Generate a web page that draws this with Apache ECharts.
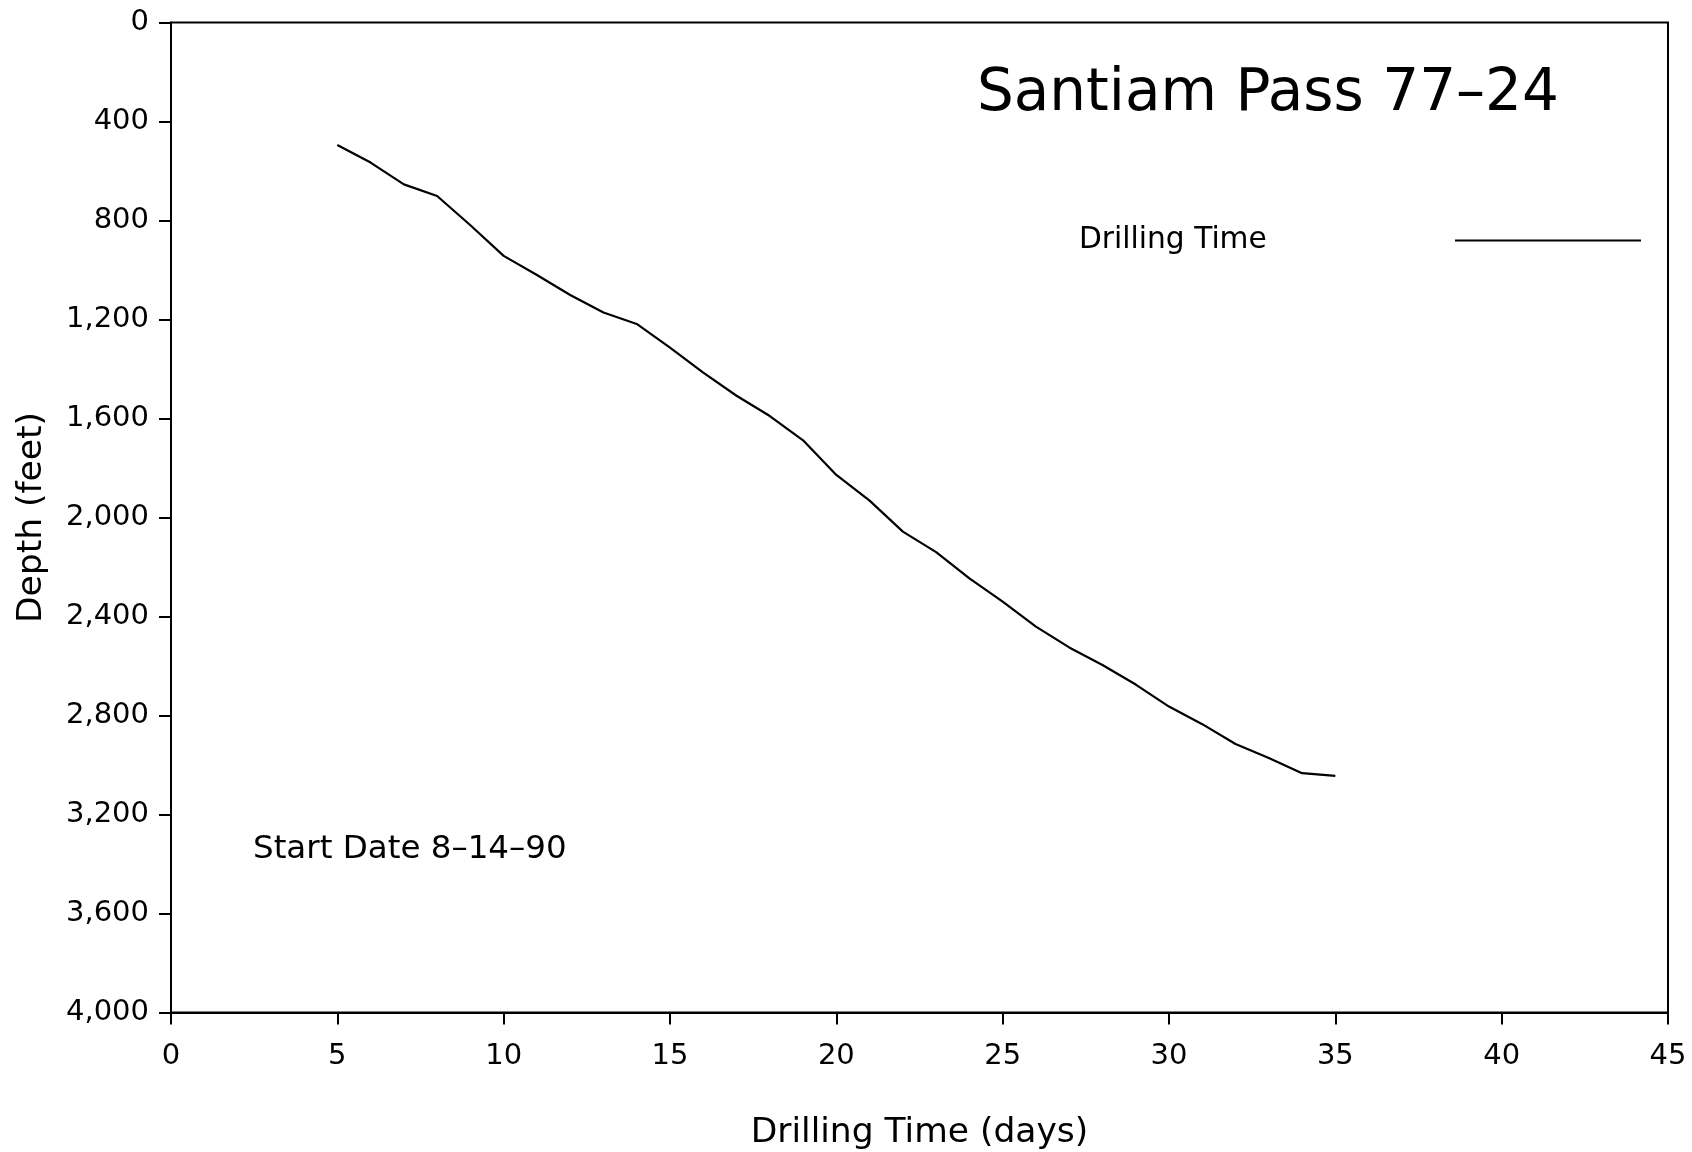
<!DOCTYPE html>
<html>
<head>
<meta charset="utf-8">
<script src="https://cdn.jsdelivr.net/npm/echarts@6/dist/echarts.min.js"></script>
<style>
  html, body { margin: 0; padding: 0; background: #fff; }
  #chart { width: 1692px; height: 1152px; }
</style>
</head>
<body>
<div id="chart"></div>
<script>
// ---- data ----
const titleText = 'Santiam Pass 77\u201324';
const seriesName = 'Drilling Time';
const noteText = 'Start Date 8\u201314\u201390';
const xAxisTitle = 'Drilling Time (days)';
const yAxisTitle = 'Depth (feet)';

const days = [5, 6, 7, 8, 9, 10, 11, 12, 13, 14, 15, 16, 17, 18, 19, 20,
              21, 22, 23, 24, 25, 26, 27, 28, 29, 30, 31, 32, 33, 34, 35];
const depthFt = [495, 566, 654, 701, 819, 943, 1020, 1101, 1172, 1218, 1314, 1415, 1508, 1590, 1688, 1828,
                 1932, 2057, 2140, 2246, 2340, 2441, 2525, 2596, 2675, 2764, 2835, 2915, 2972, 3033, 3044];

const xTicks = [0, 5, 10, 15, 20, 25, 30, 35, 40, 45];
const yTicks = [0, 400, 800, 1200, 1600, 2000, 2400, 2800, 3200, 3600, 4000];

// ---- chart ----
const FONT = 'DejaVu Sans';
const chart = echarts.init(document.getElementById('chart'), null, { renderer: 'canvas' });

const lineData = days.map((d, i) => [d, depthFt[i]]);

chart.setOption({
  backgroundColor: '#ffffff',
  animation: false,
  textStyle: { fontFamily: FONT, color: '#000' },
  title: {
    text: titleText,
    left: 977,
    top: 66,
    padding: 0,
    textStyle: { fontFamily: FONT, fontSize: 58, fontWeight: 'normal', color: '#000' }
  },
  legend: {
    left: 1079,
    top: 225.5,
    padding: 0,
    align: 'right',
    icon: 'rect',
    itemWidth: 186,
    itemHeight: 2,
    selectedMode: false,
    data: [seriesName],
    itemStyle: { color: '#000' },
    formatter: name => '{a|' + name + '}',
    textStyle: {
      fontFamily: FONT, fontSize: 29.7, color: '#000',
      rich: { a: { width: 371, align: 'left', fontFamily: FONT, fontSize: 29.7, color: '#000' } }
    }
  },
  grid: {
    left: 171, right: 24, top: 22.5, bottom: 139.5,
    outerBoundsMode: 'none',
    containLabel: false,
    show: true, borderColor: '#000', borderWidth: 2, backgroundColor: 'transparent'
  },
  xAxis: {
    type: 'value',
    min: xTicks[0], max: xTicks[xTicks.length - 1], interval: 5,
    name: xAxisTitle,
    nameLocation: 'middle',
    nameGap: 103,
    nameTextStyle: { fontFamily: FONT, fontSize: 34.5, color: '#000' },
    axisLine: { show: true, onZero: false, lineStyle: { color: '#000', width: 2 } },
    axisTick: { show: true, inside: false, length: 12, lineStyle: { color: '#000', width: 2 } },
    axisLabel: { margin: 29, fontFamily: FONT, fontSize: 29, color: '#000' },
    splitLine: { show: false }
  },
  yAxis: {
    type: 'value',
    inverse: true,
    min: yTicks[0], max: yTicks[yTicks.length - 1], interval: 400,
    name: yAxisTitle,
    nameLocation: 'middle',
    nameGap: 121,
    nameRotate: 90,
    nameTextStyle: { fontFamily: FONT, fontSize: 34.5, color: '#000' },
    axisLine: { show: true, onZero: false, lineStyle: { color: '#000', width: 2 } },
    axisTick: { show: true, inside: false, length: 12, lineStyle: { color: '#000', width: 2 } },
    axisLabel: {
      margin: 22, fontFamily: FONT, fontSize: 29, color: '#000',
      formatter: v => v.toLocaleString('en-US')
    },
    splitLine: { show: false }
  },
  graphic: [{
    type: 'text',
    left: 253,
    top: 833,
    style: { text: noteText, fontFamily: FONT, fontSize: 32.5, fill: '#000' }
  }],
  series: [{
    name: seriesName,
    type: 'line',
    data: lineData,
    symbol: 'none',
    smooth: false,
    lineStyle: { color: '#000', width: 2.2 },
    itemStyle: { color: '#000' }
  }]
});
</script>
</body>
</html>
